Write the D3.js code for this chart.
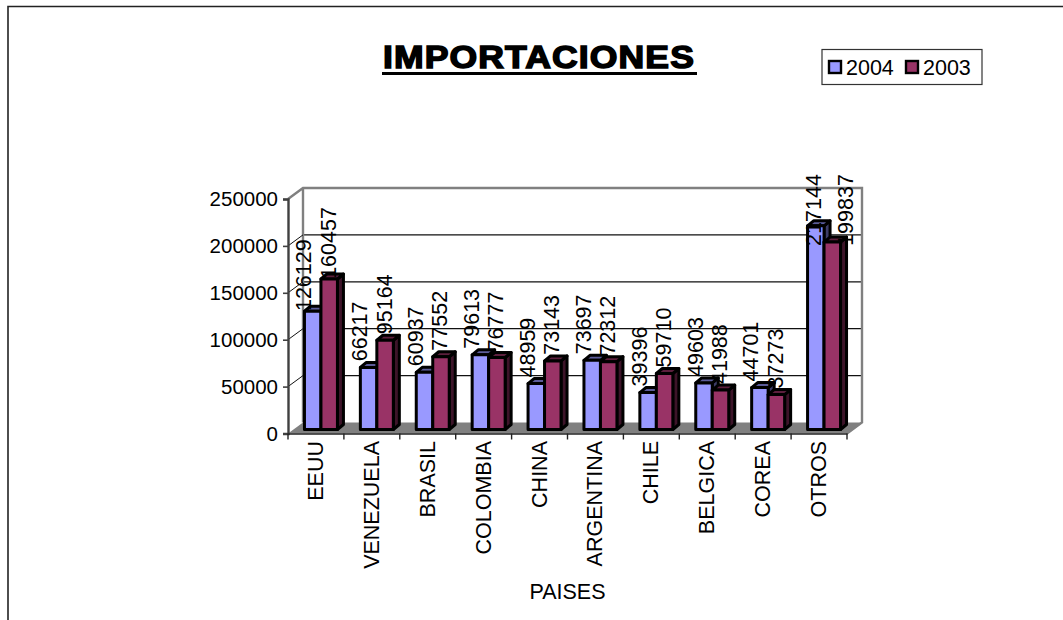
<!DOCTYPE html>
<html>
<head>
<meta charset="utf-8">
<script src="https://cdn.jsdelivr.net/npm/d3@7"></script>
<style>
  html, body { margin: 0; padding: 0; background: #fff; overflow: hidden; }
  text { font-family: "Liberation Sans", Arial, sans-serif; fill: #000; }
</style>
</head>
<body>
<div id="chart"></div>
<script>
// chart data
const paises = ['EEUU', 'VENEZUELA', 'BRASIL', 'COLOMBIA', 'CHINA', 'ARGENTINA', 'CHILE', 'BELGICA', 'COREA', 'OTROS'];
const valores2004 = [126129, 66217, 60937, 79613, 48959, 73697, 39396, 49603, 44701, 217144];
const valores2003 = [160457, 95164, 77552, 76777, 73143, 72312, 59710, 41988, 37273, 199837];
const yTicks = [0, 50000, 100000, 150000, 200000, 250000];
const series = [
    { name: '2004', values: valores2004, face: '#9999ff', side: '#3d3d66', top: '#5c5c99' },
    { name: '2003', values: valores2003, face: '#993366', side: '#3d1429', top: '#5c1f3d' }
];

const width = 1063, height = 620;
const plot = { left: 288, right: 847, top: 199, bottom: 433.5 };
const wall = { dx: 15, dy: -11 };      // offset of the back wall
const barShift = { dx: 5, dy: -4 };    // bars stand a little inside the floor
const barDepth = { dx: 6, dy: -5 };
const fontSize = 21.5;

const svg = d3.select('#chart').append('svg')
    .attr('width', width)
    .attr('height', height)
    .style('display', 'block');

const x = d3.scaleBand().domain(paises).range([plot.left, plot.right]);
const groupWidth = x.bandwidth() * 0.59;
const xSeries = d3.scaleBand().domain(series.map(d => d.name)).range([0, groupWidth]);
const y = d3.scaleLinear().domain([0, 250000]).range([plot.bottom, plot.top]);

// outer frame, only top and left show in the crop
svg.append('path')
    .attr('d', `M8,${height}V6.5H${width}`)
    .attr('fill', 'none')
    .attr('stroke', '#222')
    .attr('stroke-width', 1.6);

// floor
const floorPts = [
    [plot.left, plot.bottom],
    [plot.right, plot.bottom],
    [plot.right + wall.dx, plot.bottom + wall.dy],
    [plot.left + wall.dx, plot.bottom + wall.dy]
];
svg.append('polygon')
    .attr('points', floorPts.join(' '))
    .attr('fill', '#808080');

// back wall grid
svg.append('g').selectAll('line')
    .data(yTicks.slice(1, 5))
    .join('line')
    .attr('x1', plot.left + wall.dx)
    .attr('x2', plot.right + wall.dx)
    .attr('y1', d => y(d) + wall.dy)
    .attr('y2', d => y(d) + wall.dy)
    .attr('stroke', '#111')
    .attr('stroke-width', 1.2);

// wall edges
svg.append('path')
    .attr('d', `M${plot.left},${plot.top}L${plot.left + wall.dx},${plot.top + wall.dy}` +
        `H${plot.right + wall.dx}V${plot.bottom + wall.dy}L${plot.right},${plot.bottom}` +
        `M${plot.left + wall.dx},${plot.top + wall.dy}V${plot.bottom + wall.dy}`)
    .attr('fill', 'none')
    .attr('stroke', '#808080')
    .attr('stroke-width', 2.4);

// diagonals on the left wall
svg.append('g').selectAll('line')
    .data(yTicks.slice(1, 5))
    .join('line')
    .attr('x1', plot.left)
    .attr('x2', plot.left + wall.dx)
    .attr('y1', d => y(d))
    .attr('y2', d => y(d) + wall.dy)
    .attr('stroke', '#111')
    .attr('stroke-width', 1);

// bars
const barX = (cat, s) => x(cat) + (x.bandwidth() - groupWidth) / 2 + barShift.dx + xSeries(s.name);
const barBase = plot.bottom + barShift.dy;
const barTop = v => y(v) + barShift.dy;

const groups = svg.append('g').selectAll('g')
    .data(paises)
    .join('g');

groups.each(function (cat, i) {
    const g = d3.select(this);
    series.forEach(s => {
        const x0 = barX(cat, s), x1 = x0 + xSeries.bandwidth();
        const t = barTop(s.values[i]);
        const shape = { stroke: '#000', 'stroke-width': 3, 'stroke-linejoin': 'round' };
        const side = g.append('polygon')
            .attr('points', [[x1, t], [x1 + barDepth.dx, t + barDepth.dy],
                [x1 + barDepth.dx, barBase + barDepth.dy], [x1, barBase]].join(' '))
            .attr('fill', s.side);
        const cap = g.append('polygon')
            .attr('points', [[x0, t], [x0 + barDepth.dx, t + barDepth.dy],
                [x1 + barDepth.dx, t + barDepth.dy], [x1, t]].join(' '))
            .attr('fill', s.top);
        const face = g.append('rect')
            .attr('x', x0)
            .attr('y', t)
            .attr('width', x1 - x0)
            .attr('height', barBase - t)
            .attr('fill', s.face);
        [side, cap, face].forEach(el => {
            Object.entries(shape).forEach(([k, v]) => el.attr(k, v));
        });
    });
});

// data labels, centred above the bar; pushed down and right near the chart top
const labelGap = 36;
const labelCentreLimit = 210;
const labelOffset = { '2004': -8.5, '2003': -0.5 };
const labelNudge = { '2004': 7, '2003': 14 };
series.forEach(s => {
    svg.append('g').selectAll('text')
        .data(s.values.map((v, i) => ({ v, cat: paises[i] })))
        .join('text')
        .attr('font-size', fontSize)
        .attr('text-anchor', 'middle')
        .attr('dominant-baseline', 'central')
        .attr('transform', d => {
            const natural = barTop(d.v) - labelGap;
            const clamped = natural < labelCentreLimit;
            const cx = barX(d.cat, s) + xSeries.bandwidth() / 2 + labelOffset[s.name] + (clamped ? labelNudge[s.name] : 0);
            return `translate(${cx},${clamped ? labelCentreLimit : natural}) rotate(-90)`;
        })
        .text(d => d.v);
});

// y axis
const yAxis = svg.append('g')
    .attr('transform', `translate(${plot.left},0)`)
    .call(d3.axisLeft(y).tickValues(yTicks).tickFormat(d3.format('d')).tickSize(5).tickPadding(5));
yAxis.select('.domain').attr('stroke', '#404040').attr('stroke-width', 2.4);
yAxis.selectAll('.tick line').attr('stroke', '#404040').attr('stroke-width', 1.6);
yAxis.selectAll('text').attr('font-size', 20.5).attr('fill', '#000');

// x axis
const xAxis = svg.append('g')
    .attr('transform', `translate(0,${plot.bottom})`)
    .call(d3.axisBottom(x).tickSize(0).tickPadding(0));
xAxis.select('.domain').attr('stroke', '#222').attr('stroke-width', 1.6);
xAxis.selectAll('.tick text')
    .attr('font-size', fontSize)
    .attr('fill', '#000')
    .attr('text-anchor', 'end')
    .attr('dominant-baseline', 'central')
    .attr('dy', 0)
    .attr('transform', 'translate(0,7.5) rotate(-90)')
    .attr('y', 0);
svg.append('g').selectAll('line')
    .data(paises.map(d => x(d)).concat([plot.right]))
    .join('line')
    .attr('x1', d => d).attr('x2', d => d)
    .attr('y1', plot.bottom).attr('y2', plot.bottom + 6)
    .attr('stroke', '#222')
    .attr('stroke-width', 1.4);

svg.append('text')
    .attr('x', 567.5)
    .attr('y', 599)
    .attr('text-anchor', 'middle')
    .attr('font-size', fontSize)
    .text('PAISES');

// title
svg.append('text')
    .attr('x', 383)
    .attr('y', 68)
    .attr('font-size', 32)
    .attr('font-weight', 'bold')
    .attr('letter-spacing', 1)
    .attr('stroke', '#000')
    .attr('stroke-width', 1.5)
    .attr('textLength', 312)
    .attr('lengthAdjust', 'spacingAndGlyphs')
    .text('IMPORTACIONES');
svg.append('rect')
    .attr('x', 382)
    .attr('y', 72)
    .attr('width', 315)
    .attr('height', 3)
    .attr('fill', '#000');

// legend
const legend = svg.append('g');
legend.append('rect')
    .attr('x', 822).attr('y', 49.5)
    .attr('width', 160).attr('height', 35)
    .attr('fill', '#fff')
    .attr('stroke', '#333')
    .attr('stroke-width', 1.2);
series.forEach((s, i) => {
    const lx = 829 + i * 77;
    legend.append('rect')
        .attr('x', lx).attr('y', 61)
        .attr('width', 12).attr('height', 12)
        .attr('fill', s.face)
        .attr('stroke', '#000')
        .attr('stroke-width', 2.4);
    legend.append('text')
        .attr('x', lx + 17)
        .attr('y', 75)
        .attr('font-size', fontSize)
        .text(s.name);
});
</script>
</body>
</html>
